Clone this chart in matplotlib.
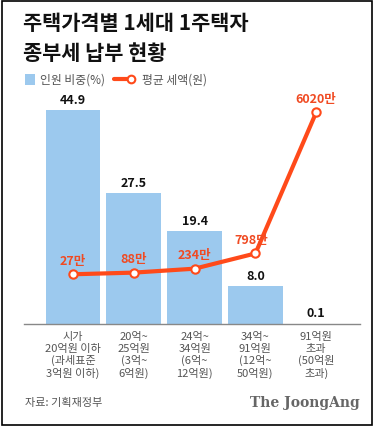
import matplotlib
matplotlib.use("Agg")
import matplotlib.pyplot as plt
from matplotlib.patches import Rectangle
from matplotlib.lines import Line2D

plt.rcParams['font.family'] = ['Noto Sans CJK KR', 'DejaVu Sans']

categories = ["시가\n20억원 이하\n(과세표준\n3억원 이하)",
              "20억~\n25억원\n(3억~\n6억원)",
              "24억~\n34억원\n(6억~\n12억원)",
              "34억~\n91억원\n(12억~\n50억원)",
              "91억원\n초과\n(50억원\n초과)"]
share_pct = [44.9, 27.5, 19.4, 8.0, 0.1]
avg_tax = [27, 88, 234, 798, 6020]  # 만원
tax_labels = ["27만", "88만", "234만", "798만", "6020만"]

W, H = 373, 427
fig = plt.figure(figsize=(W / 100, H / 100), dpi=100)

bar_color = "#9CC9EE"
line_color = "#FF4A1A"
label_red = "#F04A22"
gray = "#555555"

ax = fig.add_axes([24 / W, (H - 325) / H, 336 / W, 225 / H])
x = list(range(len(categories)))
ax.bar(x, share_pct, width=0.9, color=bar_color, zorder=1)
ax.set_xlim(-0.807, 4.72)
ax.set_ylim(0, 47.17)
for s in ["top", "right", "left"]:
    ax.spines[s].set_visible(False)
ax.spines["bottom"].set_color("#888888")
ax.spines["bottom"].set_linewidth(1.0)
ax.set_yticks([])
ax.set_xticks(x)
ax.set_xticklabels(categories, fontsize=8, color=gray, linespacing=1.2)
ax.tick_params(axis="x", length=0, pad=5)
for xi, v in zip(x, share_pct):
    ax.annotate(f"{v:.1f}", (xi, v), xytext=(0, 3), textcoords="offset points",
                ha="center", va="bottom", fontsize=9, fontweight="bold", color="#111111")

ax2 = ax.twinx()
ax2.set_ylim(-1813, 6512)
ax2.axis("off")
ax2.plot(x, avg_tax, color=line_color, lw=3, zorder=3,
         marker="o", markersize=6, markerfacecolor="white",
         markeredgecolor=line_color, markeredgewidth=1.5)
offsets = [(0, 5.5), (0, 5.5), (0, 5.5), (-3, 5.5), (0, 5.5)]
for xi, v, t, off in zip(x, avg_tax, tax_labels, offsets):
    ax2.annotate(t, (xi, v), xytext=off, textcoords="offset points", zorder=5,
                 ha="center", va="bottom", fontsize=9, fontweight="bold", color=label_red)

# title
fig.text(23 / W, 1 - 23 / H, "주택가격별 1세대 1주택자", fontsize=15, fontweight="bold",
         color="#111111", va="center", ha="left")
fig.text(23 / W, 1 - 53 / H, "종부세 납부 현황", fontsize=15, fontweight="bold",
         color="#111111", va="center", ha="left")

# legend
fig.patches.append(Rectangle((25 / W, 1 - 86 / H), 10 / W, 11 / H, transform=fig.transFigure,
                             facecolor=bar_color, edgecolor="none"))
fig.text(40 / W, 1 - 80 / H, "인원 비중(%)", fontsize=8.5, color=gray, va="center", ha="left")
fig.lines.append(Line2D([114 / W, 131 / W], [1 - 80 / H, 1 - 80 / H], transform=fig.transFigure,
                        color=line_color, lw=3, solid_capstyle="round"))
fig.lines.append(Line2D([131 / W], [1 - 80 / H], transform=fig.transFigure, marker="o",
                        markersize=5.5, markerfacecolor="white", markeredgecolor=line_color,
                        markeredgewidth=1.5, linestyle="none"))
fig.text(142 / W, 1 - 80 / H, "평균 세액(원)", fontsize=8.5, color=gray, va="center", ha="left")

# footer
fig.text(25 / W, 1 - 403 / H, "자료: 기획재정부", fontsize=8, color=gray, va="center", ha="left")
fig.text(360 / W, 1 - 403 / H, "The JoongAng", fontsize=10, color="#666666", va="center",
         ha="right", fontweight="bold", family="DejaVu Serif")

# frame
fig.patches.append(Rectangle((1.5 / W, 1.5 / H), (W - 3) / W, (H - 3) / H, transform=fig.transFigure,
                             facecolor="none", edgecolor="black", lw=1.2))

fig.savefig("out.png", dpi=100)
